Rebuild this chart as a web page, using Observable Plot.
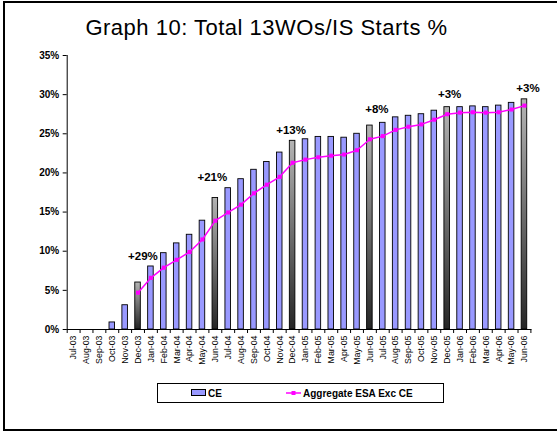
<!DOCTYPE html>
<html>
<head>
<meta charset="utf-8">
<script src="https://cdn.jsdelivr.net/npm/d3@7"></script>
<script src="https://cdn.jsdelivr.net/npm/@observablehq/plot@0.6"></script>
<style>
  html, body { margin: 0; padding: 0; background: #fff; overflow: hidden; }
  #wrap { position: relative; width: 557px; height: 431px; font-family: "Liberation Sans", Arial, sans-serif; }
  #frame { position: absolute; left: 3px; top: 1px; width: 600px; height: 426px; border: 2px solid #000; box-sizing: content-box; }
  #title { position: absolute; left: 0; top: 17px; width: 533px; text-align: center; font-size: 22px; line-height: 22px; letter-spacing: 0.5px; color: #000; }
  #legend { position: absolute; left: 157px; top: 383px; width: 285px; height: 18px; border: 1px solid #000; background: #fff; font-size: 10px; font-weight: bold; }
  .item { position: absolute; top: 0; height: 18px; display: flex; align-items: center; }
  .item svg { display: block; }
  #chart { position: absolute; left: 0; top: 0; }
</style>
</head>
<body>
<div id="wrap">
  <div id="frame"></div>
  <div id="chart"></div>
  <div id="title">Graph 10: Total 13WOs/IS Starts %</div>
  <div id="legend">
    <div class="item" style="left:33px"><svg width="16" height="8"><rect x="0.5" y="0.5" width="14" height="6" fill="#9999ff" stroke="#000" stroke-width="1"/></svg><span style="margin-left:1px">CE</span></div>
    <div class="item" style="left:128px"><svg width="17" height="8"><line x1="0" y1="4" x2="15" y2="4" stroke="#ff00ff" stroke-width="1.5"/><rect x="5.5" y="2" width="4" height="4" fill="#ff00ff"/></svg><span style="margin-left:0px">Aggregate ESA Exc CE</span></div>
  </div>
</div>
<script>
const months = ["Jul-03","Aug-03","Sep-03","Oct-03","Nov-03","Dec-03",
  "Jan-04","Feb-04","Mar-04","Apr-04","May-04","Jun-04","Jul-04","Aug-04","Sep-04","Oct-04","Nov-04","Dec-04",
  "Jan-05","Feb-05","Mar-05","Apr-05","May-05","Jun-05","Jul-05","Aug-05","Sep-05","Oct-05","Nov-05","Dec-05",
  "Jan-06","Feb-06","Mar-06","Apr-06","May-06","Jun-06"];
const ceValues = [0,0,0,0.9,3.1,6.0,
  8.05,9.75,11.0,12.1,13.9,16.8,18.05,19.2,20.4,21.4,22.6,24.1,
  24.3,24.6,24.6,24.5,25.0,26.05,26.4,27.1,27.3,27.5,27.95,28.4,
  28.4,28.5,28.4,28.6,28.95,29.4];
const aggregateValues = [null,null,null,null,null,4.7,
  6.6,7.9,8.9,9.9,11.5,13.9,14.95,15.95,17.4,18.5,19.5,21.3,
  21.7,22.0,22.2,22.35,22.9,24.3,24.7,25.5,25.9,26.2,26.8,27.5,
  27.7,27.75,27.7,27.75,28.1,28.6];
const halfYearMonths = ["Dec-03","Jun-04","Dec-04","Jun-05","Dec-05","Jun-06"];
const annoText = ["+29%","+21%","+13%","+8%","+3%","+3%"];
const annoMonth = ["Jan-04","Jun-04","Dec-04","Jun-05","Dec-05","Jun-06"];
const annoLevel = [9.3,19.4,25.5,28.1,30.0,30.8];
const yTicks = [0,5,10,15,20,25,30,35];

const rows = months.map((m, i) => ({month: m, ce: ceValues[i], agg: aggregateValues[i], half: halfYearMonths.includes(m)}));
const annos = annoText.map((t, i) => ({text: t, month: annoMonth[i], y: annoLevel[i]}));

const W = 557, H = 431, ML = 66.7, MR = 26.6, MT = 55, MB = 102;
const step = (W - ML - MR) / months.length;
const annoShift = [-8, -3, -1.5, 7, 2.5, 3.5];
const font = "Liberation Sans, Arial, sans-serif";

const plot = Plot.plot({
  width: W, height: H,
  marginLeft: ML, marginRight: MR, marginTop: MT, marginBottom: MB,
  style: {fontFamily: font, background: "transparent", overflow: "visible"},
  x: {domain: months, paddingInner: 0.57, paddingOuter: 0.285, label: null},
  y: {domain: [0, 35], label: null},
  marks: [
    Plot.barY(rows.filter(d => d.ce > 0 && !d.half), {x: "month", y: "ce", fill: "#9999ff", stroke: "#000", strokeWidth: 0.9}),
    Plot.barY(rows.filter(d => d.ce > 0 && d.half), {x: "month", y: "ce", fill: "url(#grayGrad)", stroke: "#000", strokeWidth: 0.9}),
    Plot.frame({anchor: "left", stroke: "#000"}),
    Plot.frame({anchor: "bottom", stroke: "#000"}),
    Plot.axisY({ticks: yTicks, tickFormat: d => d + "%", tickSize: 4, tickPadding: 4, fontSize: 10, fontWeight: "bold", label: null, stroke: "#000"}),
    Plot.axisX({tickSize: 0, tickPadding: 6, tickRotate: -90, fontSize: 8.8, label: null}),
    Plot.axisX({tickSize: 4, text: null, dx: -step / 2, label: null}),
    Plot.axisX({ticks: [months[months.length - 1]], tickSize: 4, text: null, dx: step / 2, label: null}),
    Plot.line(rows.filter(d => d.agg != null), {x: "month", y: "agg", stroke: "#ff00ff", strokeWidth: 1.5}),
    Plot.dot(rows.filter(d => d.agg != null), {x: "month", y: "agg", symbol: "square", r: 2.3, fill: "#ff00ff"}),
    ...annos.map((a, i) => Plot.text([a], {x: "month", y: "y", text: "text", dx: annoShift[i], fontSize: 11.5, fontWeight: "bold", fill: "#000"}))
  ]
});

d3.select(plot).insert("defs", ":first-child").html(
  '<linearGradient id="grayGrad" x1="0" y1="0" x2="0" y2="1">' +
  '<stop offset="0" stop-color="#b4b4b4"/><stop offset="1" stop-color="#262626"/></linearGradient>');

document.getElementById("chart").appendChild(plot);
</script>
</body>
</html>
